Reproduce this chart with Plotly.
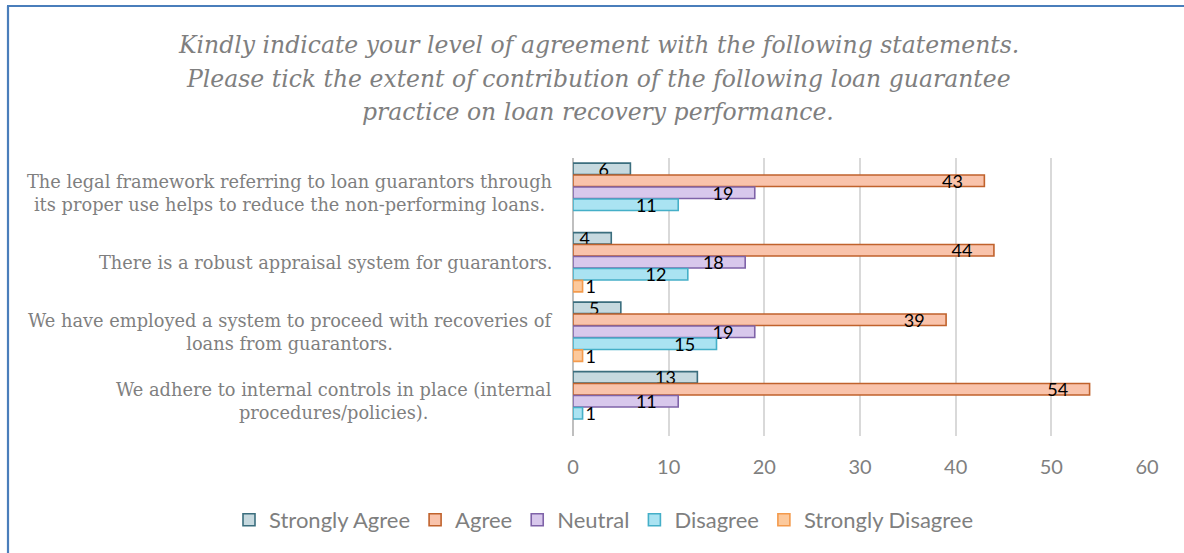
import plotly.graph_objects as go

# Survey statements (top to bottom) and response counts per level
statements = [
    "The legal framework referring to loan guarantors through<br>its proper use helps to reduce the non-performing loans.",
    "There is a robust appraisal system for guarantors.",
    "We have employed a system to proceed with recoveries of<br>loans from guarantors.",
    "We adhere to internal controls in place (internal<br>procedures/policies).",
]
levels = ["Strongly Agree", "Agree", "Neutral", "Disagree", "Strongly Disagree"]
strongly_agree = [6, 4, 5, 13]
agree = [43, 44, 39, 54]
neutral = [19, 18, 19, 11]
disagree = [11, 12, 15, 1]
strongly_disagree = [None, 1, 1, None]
x_ticks = [0, 10, 20, 30, 40, 50, 60]

series = [strongly_agree, agree, neutral, disagree, strongly_disagree]
fills = ["#c6d9df", "#f9c3ab", "#d8c8ec", "#aae3f2", "#fcc99c"]
edges = ["#3b6e7e", "#c0622c", "#7f63a8", "#45afc8", "#f39a4c"]

W, H = 1184, 553
PLOT_LEFT, PLOT_RIGHT = 573, 1147
T, B = 158, 117
plot_h = H - T - B


def py(ypx):
    return (H - B - ypx) / plot_h


def px(xpx):
    return xpx / W


fig = go.Figure()
NBSP = "\u00a0"
for name, vals, fc, ec in zip(levels, series, fills, edges):
    texts = [("" if v is None else (f"{v}" + NBSP * 4 if v > 1 else f"{v}")) for v in vals]
    positions = [("inside" if (v is not None and v > 1) else "outside") for v in vals]
    fig.add_trace(go.Bar(
        name=name,
        y=statements,
        x=vals,
        orientation="h",
        marker=dict(color=fc, line=dict(color=ec, width=1.6)),
        text=texts,
        textposition=positions,
        insidetextanchor="end",
        textfont=dict(family="Lato", size=18, color="#000000"),
        insidetextfont=dict(family="Lato", size=18, color="#000000"),
        outsidetextfont=dict(family="Lato", size=18, color="#000000"),
        cliponaxis=False,
        hoverinfo="x+name",
    ))

annotations = []
# statement labels, centred lines, right edge just left of the axis
for s in statements:
    annotations.append(dict(
        x=0, xref="x", xshift=-19, xanchor="right",
        y=s, yref="y", yanchor="middle",
        text=s, align="center", showarrow=False,
        font=dict(family="DejaVu Serif", size=17.8, color="#7f7f7f"),
    ))

title_lines = [
    ("Kindly indicate your level of agreement with the following statements.", 45),
    ("Please tick the extent of contribution of the following loan guarantee", 79),
    ("practice on loan recovery performance.", 112),
]
for line, ypos in title_lines:
    annotations.append(dict(
        x=px(598), xref="paper", xanchor="center",
        y=py(ypos), yref="paper", yanchor="middle",
        text=f"<i>{line}</i>", showarrow=False,
        font=dict(family="DejaVu Serif", size=23.5, color="#7f7f7f"),
    ))

# chart frame: left and top edges
frame = [
    dict(type="line", xref="paper", yref="paper",
         x0=px(8), x1=px(8), y0=py(H), y1=py(6),
         line=dict(color="#4a7ebb", width=2.2), layer="above"),
    dict(type="line", xref="paper", yref="paper",
         x0=px(7), x1=px(W), y0=py(6), y1=py(6),
         line=dict(color="#4a7ebb", width=2), layer="above"),
]

fig.update_layout(
    width=W, height=H,
    autosize=False,
    margin=dict(l=0, r=0, t=T, b=B, pad=0, autoexpand=False),
    paper_bgcolor="white",
    plot_bgcolor="white",
    barmode="group",
    bargap=0.14,
    bargroupgap=0.04,
    showlegend=True,
    legend=dict(
        orientation="h",
        xref="paper", yref="paper",
        x=px(604), xanchor="center",
        y=py(520), yanchor="middle",
        font=dict(family="Lato", size=22, color="#7f7f7f"),
        itemwidth=30,
        bgcolor="rgba(0,0,0,0)",
    ),
    uniformtext=dict(mode="show", minsize=18),
    annotations=annotations,
    shapes=frame,
)

fig.update_xaxes(
    domain=[PLOT_LEFT / W, PLOT_RIGHT / W],
    automargin=False,
    range=[0, 60],
    tickvals=x_ticks,
    showgrid=True, gridcolor="#d9d9d9", gridwidth=1.5,
    zeroline=True, zerolinecolor="#bfbfbf", zerolinewidth=1.5,
    showline=False,
    ticks="",
    ticklabelstandoff=17,
    tickfont=dict(family="Lato", size=20, color="#7f7f7f"),
)
fig.update_yaxes(
    automargin=False,
    autorange="reversed",
    showticklabels=False,
    showgrid=False,
    showline=False,
    ticks="",
)

fig.write_html("out.html")
